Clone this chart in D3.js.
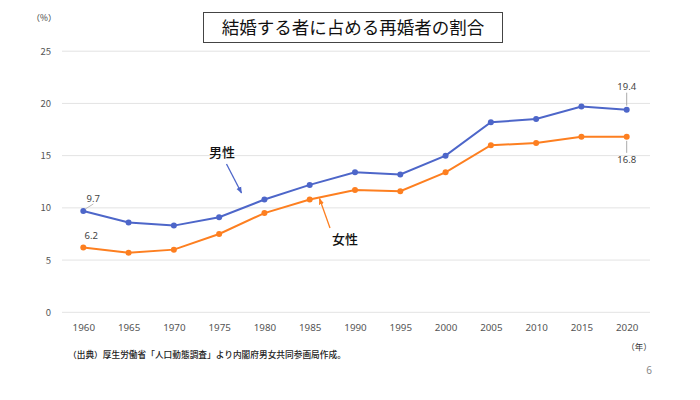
<!DOCTYPE html>
<html>
<head>
<meta charset="utf-8">
<script src="https://cdn.jsdelivr.net/npm/d3@7"></script>
<style>
  body { margin: 0; background: #fff; }
  text { font-family: "Noto Sans CJK JP", "Noto Sans", sans-serif; }
</style>
</head>
<body>
<div id="chart"></div>
<script>
const width = 700;
const height = 400;

const years = [1960, 1965, 1970, 1975, 1980, 1985, 1990, 1995, 2000, 2005, 2010, 2015, 2020];
const male = [9.7, 8.6, 8.3, 9.1, 10.8, 12.2, 13.4, 13.2, 15.0, 18.2, 18.5, 19.7, 19.4];
const female = [6.2, 5.7, 6.0, 7.5, 9.5, 10.8, 11.7, 11.6, 13.4, 16.0, 16.2, 16.8, 16.8];
const yTicks = [0, 5, 10, 15, 20, 25];

const blue = "#4d66c9";
const orange = "#fd7f20";

const svg = d3.select("#chart")
    .append("svg")
    .attr("width", width)
    .attr("height", height);

const x = d3.scalePoint()
    .domain(years)
    .range([83.3, 626.7]);

const y = d3.scaleLinear()
    .domain([0, 25])
    .range([312.3, 51.2]);

// grid lines + y labels
svg.append("g")
    .selectAll("line")
    .data(yTicks)
    .join("line")
    .attr("x1", 62)
    .attr("x2", 650)
    .attr("y1", (d) => y(d))
    .attr("y2", (d) => y(d))
    .attr("stroke", "#e3e3e3")
    .attr("stroke-width", 1);

svg.append("g")
    .selectAll("text")
    .data(yTicks)
    .join("text")
    .attr("x", 51)
    .attr("y", (d) => y(d) + 3.5)
    .attr("text-anchor", "end")
    .attr("font-size", 9.5)
    .attr("fill", "#555")
    .text((d) => d);

const xAxis = svg.append("g")
    .attr("transform", `translate(0,${y(0)})`)
    .call(d3.axisBottom(x).tickSize(0).tickPadding(12));
xAxis.select(".domain").remove();
xAxis.selectAll("text")
    .attr("font-size", 9.8)
    .attr("fill", "#555")
    .style("font-family", "'Noto Sans', sans-serif");

// lines
const line = d3.line()
    .x((d, i) => x(years[i]))
    .y((d) => y(d));

function drawSeries(values, color) {
    svg.append("path")
        .datum(values)
        .attr("fill", "none")
        .attr("stroke", color)
        .attr("stroke-width", 2)
        .attr("d", line);
    svg.append("g")
        .selectAll("circle")
        .data(values)
        .join("circle")
        .attr("cx", (d, i) => x(years[i]))
        .attr("cy", (d) => y(d))
        .attr("r", 3)
        .attr("fill", color);
}
drawSeries(female, orange);
drawSeries(male, blue);

// value labels at the ends
const last = years.length - 1;
svg.append("line")
    .attr("x1", x(years[0]) + 2).attr("y1", y(male[0]) - 2)
    .attr("x2", x(years[0]) + 10).attr("y2", y(male[0]) - 7)
    .attr("stroke", "#bbb");
svg.append("text")
    .attr("x", x(years[0]) + 10).attr("y", y(male[0]) - 9)
    .attr("text-anchor", "middle").attr("font-size", 9.5).attr("fill", "#444")
    .style("font-family", "'Noto Sans', sans-serif")
    .text(male[0].toFixed(1));
svg.append("text")
    .attr("x", x(years[0]) + 8).attr("y", y(female[0]) - 9)
    .attr("text-anchor", "middle").attr("font-size", 9.5).attr("fill", "#444")
    .style("font-family", "'Noto Sans', sans-serif")
    .text(female[0].toFixed(1));

svg.append("line")
    .attr("x1", x(years[last])).attr("y1", y(male[last]) - 4)
    .attr("x2", x(years[last])).attr("y2", y(male[last]) - 17)
    .attr("stroke", "#aaa");
svg.append("text")
    .attr("x", x(years[last])).attr("y", y(male[last]) - 20)
    .attr("text-anchor", "middle").attr("font-size", 9.5).attr("fill", "#444")
    .style("font-family", "'Noto Sans', sans-serif")
    .text(male[last].toFixed(1));
svg.append("line")
    .attr("x1", x(years[last])).attr("y1", y(female[last]) + 4)
    .attr("x2", x(years[last])).attr("y2", y(female[last]) + 16)
    .attr("stroke", "#aaa");
svg.append("text")
    .attr("x", x(years[last])).attr("y", y(female[last]) + 26)
    .attr("text-anchor", "middle").attr("font-size", 9.5).attr("fill", "#444")
    .style("font-family", "'Noto Sans', sans-serif")
    .text(female[last].toFixed(1));

// series annotations with arrows
const defs = svg.append("defs");
[["arrowBlue", blue], ["arrowOrange", orange]].forEach(([id, c]) => {
    defs.append("marker")
        .attr("id", id)
        .attr("viewBox", "0 0 10 10")
        .attr("refX", 9).attr("refY", 5)
        .attr("markerWidth", 5).attr("markerHeight", 5)
        .attr("orient", "auto")
        .append("path")
        .attr("d", "M0,1 L10,5 L0,9 z")
        .attr("fill", c);
});

svg.append("text")
    .attr("x", 222).attr("y", 157)
    .attr("text-anchor", "middle").attr("font-size", 13).attr("font-weight", 500)
    .attr("fill", "#111")
    .text("男性");
svg.append("line")
    .attr("x1", 226.5).attr("y1", 164)
    .attr("x2", 241.5).attr("y2", 193)
    .attr("stroke", blue).attr("stroke-width", 1.3)
    .attr("marker-end", "url(#arrowBlue)");

svg.append("text")
    .attr("x", 345).attr("y", 244)
    .attr("text-anchor", "middle").attr("font-size", 13).attr("font-weight", 500)
    .attr("fill", "#111")
    .text("女性");
svg.append("line")
    .attr("x1", 330).attr("y1", 228)
    .attr("x2", 319.5).attr("y2", 198.5)
    .attr("stroke", orange).attr("stroke-width", 1.3)
    .attr("marker-end", "url(#arrowOrange)");

// title box
svg.append("rect")
    .attr("x", 203.5).attr("y", 12.5)
    .attr("width", 299).attr("height", 30)
    .attr("fill", "#fff").attr("stroke", "#444").attr("stroke-width", 1);
svg.append("text")
    .attr("x", 353).attr("y", 34)
    .attr("text-anchor", "middle").attr("font-size", 17.5)
    .attr("fill", "#111")
    .text("結婚する者に占める再婚者の割合");

// units and notes
svg.append("text")
    .attr("x", 44).attr("y", 21)
    .attr("text-anchor", "middle").attr("font-size", 8.5).attr("fill", "#333")
    .text("（%）");
svg.append("text")
    .attr("x", 639).attr("y", 350)
    .attr("text-anchor", "middle").attr("font-size", 8.5).attr("fill", "#333")
    .text("（年）");
svg.append("text")
    .attr("x", 68).attr("y", 358)
    .attr("font-size", 8.7).attr("font-weight", 500).attr("fill", "#222")
    .text("（出典）厚生労働省「人口動態調査」より内閣府男女共同参画局作成。");
svg.append("text")
    .attr("x", 649).attr("y", 374)
    .attr("text-anchor", "middle").attr("font-size", 10).attr("fill", "#888")
    .style("font-family", "'Noto Sans', sans-serif")
    .text("6");
</script>
</body>
</html>
